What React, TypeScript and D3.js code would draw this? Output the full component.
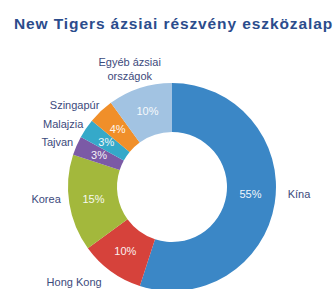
import React from 'react';
import * as d3 from 'd3';

// adatok
const countries = ['Kína', 'Hong Kong', 'Korea', 'Tajvan', 'Malajzia', 'Szingapúr', 'Egyéb ázsiai országok'];
const shares = [55, 10, 15, 3, 3, 4, 10];
const colors = ['#3b87c6', '#d6423b', '#a3b83c', '#7b5aa6', '#35a9c9', '#f08f2a', '#a2c3e2'];

const title = 'New Tigers ázsiai részvény eszközalap';

export default function App() {
  const width = 333;
  const height = 289;
  const cx = 172;
  const cy = 187;
  const outerRadius = 104;
  const innerRadius = 55;
  const labelColor = '#3c4a7c';

  const pie = d3.pie<number>().sort(null).value((d) => d);
  const arcs = pie(shares);

  const arc = d3.arc<d3.PieArcDatum<number>>()
    .innerRadius(innerRadius)
    .outerRadius(outerRadius);

  const labelArc = d3.arc<d3.PieArcDatum<number>>()
    .innerRadius(112)
    .outerRadius(112);

  const farArc = d3.arc<d3.PieArcDatum<number>>()
    .innerRadius(124)
    .outerRadius(124);

  return (
    <svg
      width={width}
      height={height}
      style={{ position: 'absolute', left: 0, top: 0, background: '#fff' }}
      fontFamily="'Liberation Sans', Arial, sans-serif"
    >
      <text x={14} y={29} fontSize={15.5} fontWeight="bold" letterSpacing={0.9} fill="#2b4c8c">
        {title}
      </text>
      <g transform={'translate(' + cx + ',' + cy + ')'}>
        {arcs.map((d, i) => (
          <path key={'s' + i} d={arc(d) || ''} fill={colors[i]} />
        ))}
        {arcs.map((d, i) => {
          const [x, y] = arc.centroid(d);
          return (
            <text key={'p' + i} x={x} y={i === 0 ? y - 5 : y} dy="0.35em" textAnchor="middle"
              fontSize={11} fill="#fff" opacity={0.92}>
              {shares[i] + '%'}
            </text>
          );
        })}
        {arcs.map((d, i) => {
          const mid = (d.startAngle + d.endAngle) / 2;
          const name = countries[i];
          if (i === 0 || i === 2) {
            // vízszintesen a százalékkal egy vonalban
            const [, c] = arc.centroid(d);
            const y = i === 0 ? c - 5 : c;
            const side = Math.sin(mid) > 0 ? 1 : -1;
            const edge = Math.sqrt(outerRadius * outerRadius - y * y);
            return (
              <text key={'l' + i} x={side * (edge + (side > 0 ? 12 : 8))} y={y} dy="0.35em"
                textAnchor={side > 0 ? 'start' : 'end'} fontSize={11} fill={labelColor}>
                {name}
              </text>
            );
          }
          if (i === 1 || i === 6) {
            const [x, y] = farArc.centroid(d);
            const words = i === 6 ? ['Egyéb ázsiai', 'országok'] : [name];
            const lx = i === 1 ? x - 25 : x - 4;
            return (
              <text key={'l' + i} x={lx} y={i === 6 ? y - 3 : y - 1}
                textAnchor="middle" fontSize={11} fill={labelColor}>
                {words.map((w, j) => (
                  <tspan key={j} x={lx} dy={j === 0 ? 0 : 14}>{w}</tspan>
                ))}
              </text>
            );
          }
          const [x, y] = labelArc.centroid(d);
          return (
            <text key={'l' + i} x={x + 4} y={y} dy="0.35em" textAnchor="end"
              fontSize={11} fill={labelColor}>
              {name}
            </text>
          );
        })}
      </g>
    </svg>
  );
}
